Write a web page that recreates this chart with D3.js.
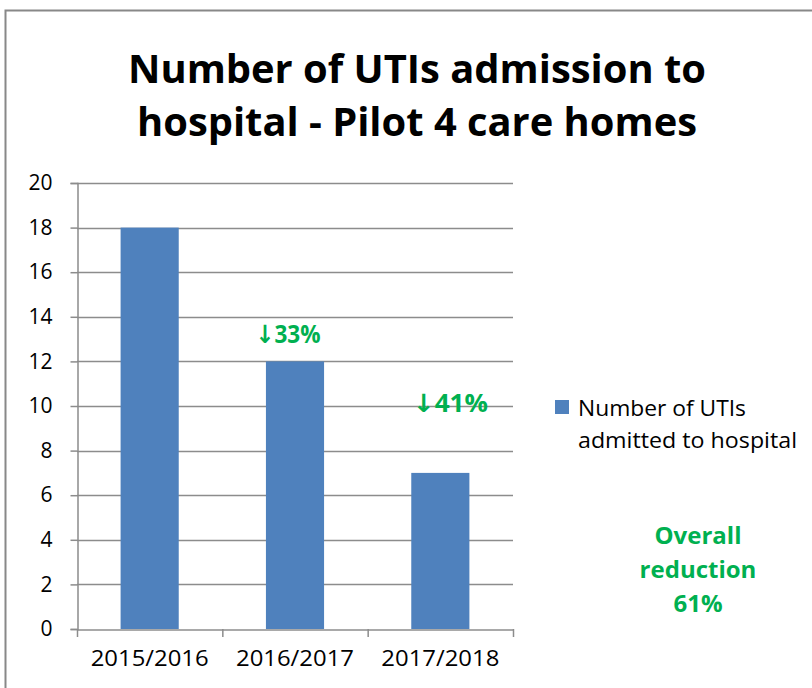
<!DOCTYPE html>
<html>
<head>
  <meta charset="utf-8" />
  <title>UTI admissions</title>
  <style>
    body { margin: 0; background: #fff; }
    svg text { font-family: "Open Sans", "DejaVu Sans", sans-serif; }
  </style>
</head>
<body>
  <svg id="svg" width="812" height="688"></svg>
  <script src="https://d3js.org/d3.v7.min.js"></script>
  <script>
    const categories = ['2015/2016', '2016/2017', '2017/2018']
    const values = [18, 12, 7]
    const yTicks = [0, 2, 4, 6, 8, 10, 12, 14, 16, 18, 20]
    const changes = [null, '↓33%', '↓41%']
    const changeAt = [null, 12.83, 9.73]
    const changeShift = [0, -7, 10]
    const titleLines = ['Number of UTIs admission to', 'hospital - Pilot 4 care homes']
    const legendLines = ['Number of UTIs', 'admitted to hospital']
    const overallLines = ['Overall', 'reduction', '61%']

    const blue = '#4f81bd'
    const green = '#00b050'
    const grid = '#8c8c8c'

    const svg = d3.select('#svg')

    // chart frame
    svg.append('rect')
      .attr('x', 5.5).attr('y', 10.5)
      .attr('width', 830).attr('height', 700)
      .attr('fill', 'none').attr('stroke', '#888').attr('stroke-width', 2)

    // title
    svg.selectAll('.title').data(titleLines).join('text')
      .attr('class', 'title')
      .attr('x', 417).attr('y', (d, i) => 83 + i * 53)
      .attr('text-anchor', 'middle')
      .attr('font-size', 38.5).attr('font-weight', 'bold')
      .attr('textLength', (d, i) => i === 0 ? 578 : 560)
      .attr('lengthAdjust', 'spacingAndGlyphs')
      .text(d => d)

    const x = d3.scaleBand().domain(categories).range([77, 513]).paddingInner(0.6).paddingOuter(0.3)
    const y = d3.scaleLinear().domain([0, 20]).range([629, 183])

    // gridlines
    svg.append('g').selectAll('line').data(yTicks.filter(d => d > 0)).join('line')
      .attr('x1', 77).attr('x2', 513)
      .attr('y1', d => Math.round(y(d)) + 0.5).attr('y2', d => Math.round(y(d)) + 0.5)
      .attr('stroke', grid).attr('stroke-width', 1.5)

    // bars
    svg.append('g').selectAll('rect').data(values).join('rect')
      .attr('x', (d, i) => x(categories[i]))
      .attr('width', x.bandwidth())
      .attr('y', d => y(d))
      .attr('height', d => y(0) - y(d))
      .attr('fill', blue)

    // y axis
    const yAxis = svg.append('g').attr('transform', 'translate(77.5,0)')
      .call(d3.axisLeft(y).tickValues(yTicks).tickSize(7).tickPadding(18))
    yAxis.select('.domain').attr('stroke', grid).attr('stroke-width', 1.5)
    yAxis.selectAll('.tick line').attr('stroke', grid).attr('stroke-width', 1.5)
    yAxis.selectAll('.tick text').attr('font-size', 21).attr('fill', '#000')
      .attr('font-family', '"Open Sans", sans-serif')

    // x axis
    const xAxis = svg.append('g').attr('transform', 'translate(0,629.5)')
      .call(d3.axisBottom(x).tickSize(0).tickPadding(22))
    xAxis.select('.domain').attr('stroke', grid).attr('stroke-width', 1.5)
    xAxis.selectAll('.tick text').attr('font-size', 21).attr('fill', '#000')
      .attr('font-family', '"Open Sans", sans-serif')
      .attr('textLength', 118).attr('lengthAdjust', 'spacingAndGlyphs')
    const step = (513 - 77) / categories.length
    svg.append('g').selectAll('line').data(d3.range(categories.length + 1)).join('line')
      .attr('x1', d => 77.5 + d * step).attr('x2', d => 77.5 + d * step)
      .attr('y1', 629).attr('y2', 637)
      .attr('stroke', grid).attr('stroke-width', 1.5)

    // change annotations
    svg.append('g').selectAll('text').data(changes.map((c, i) => ({ c, i })).filter(d => d.c)).join('text')
      .attr('x', d => x(categories[d.i]) + x.bandwidth() / 2 + changeShift[d.i])
      .attr('y', d => y(changeAt[d.i]))
      .attr('text-anchor', 'middle')
      .attr('font-size', 25).attr('font-weight', 'bold')
      .attr('fill', green)
      .attr('textLength', d => d.i === 1 ? 65 : 75)
      .attr('lengthAdjust', 'spacingAndGlyphs')
      .text(d => d.c)

    // legend
    svg.append('rect').attr('x', 555).attr('y', 400).attr('width', 14).attr('height', 14).attr('fill', blue)
    svg.selectAll('.legend').data(legendLines).join('text')
      .attr('class', 'legend')
      .attr('x', 578).attr('y', (d, i) => 416 + i * 32)
      .attr('font-size', 21)
      .attr('textLength', (d, i) => i === 0 ? 168 : 219)
      .attr('lengthAdjust', 'spacingAndGlyphs')
      .text(d => d)

    // overall reduction
    svg.selectAll('.overall').data(overallLines).join('text')
      .attr('class', 'overall')
      .attr('x', 698).attr('y', (d, i) => 544 + i * 34)
      .attr('text-anchor', 'middle')
      .attr('font-size', 24).attr('font-weight', 'bold')
      .attr('fill', green)
      .text(d => d)
  </script>
</body>
</html>
